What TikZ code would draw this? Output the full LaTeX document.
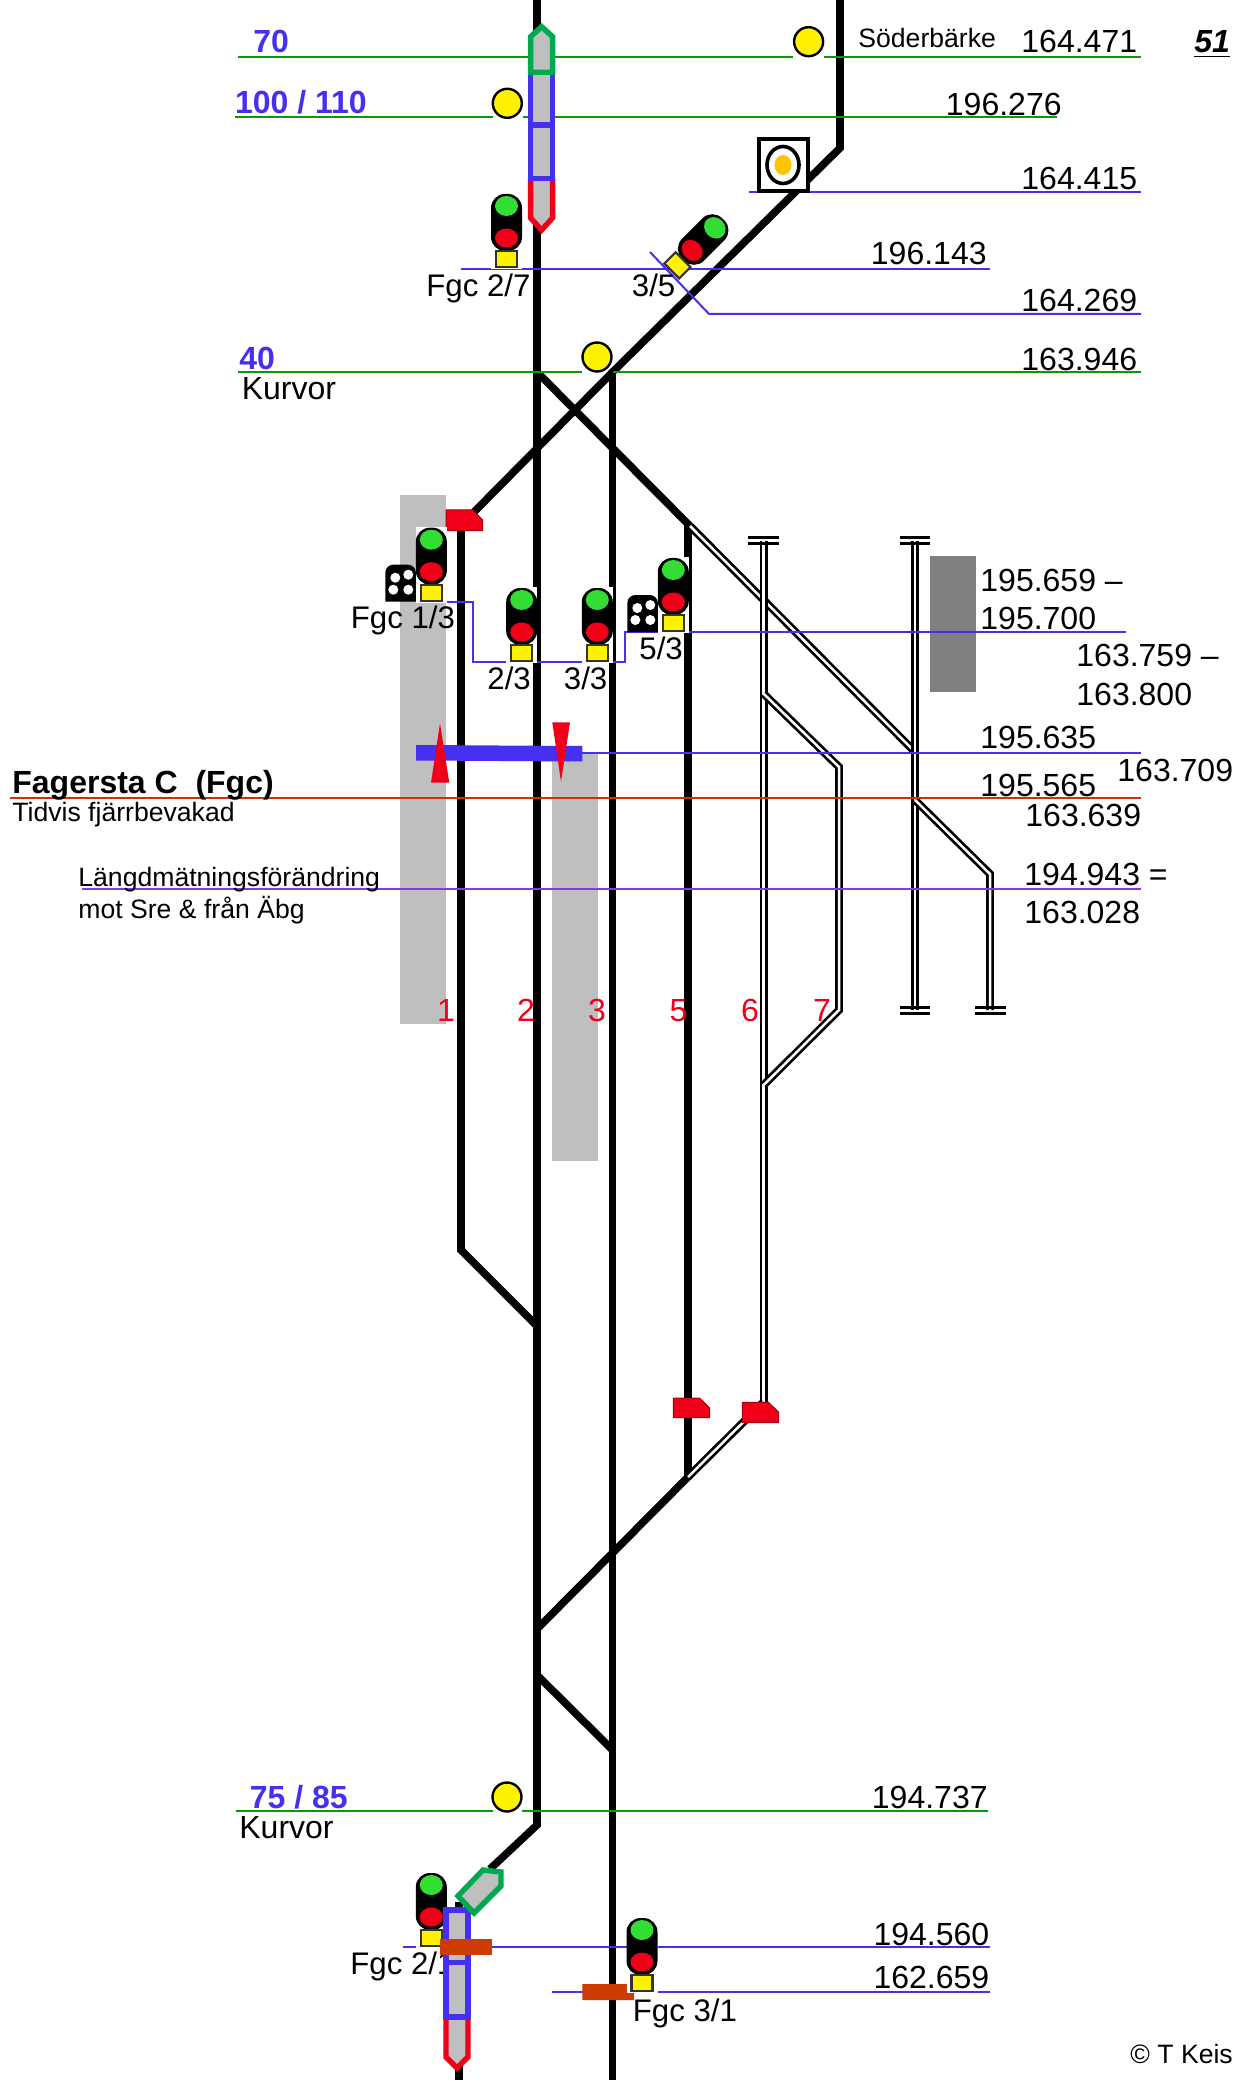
\documentclass[tikz,border=0pt]{standalone}
\usepackage{fontspec}
\setmainfont{Liberation Sans}
\definecolor{lineblue}{HTML}{4530F0}
\definecolor{linegreen}{HTML}{0A990A}
\definecolor{linered}{HTML}{CC3300}
\definecolor{linepurple}{HTML}{8A33F0}
\definecolor{signred}{HTML}{F00018}
\definecolor{signgreen}{HTML}{33DD33}
\definecolor{unitgreen}{HTML}{00A850}
\definecolor{barred}{HTML}{CC3B00}
\definecolor{lampamber}{HTML}{FFC400}
\tikzset{
  track/.style={line width=3.8pt},
  sidetrack/.style={draw=black,line width=1.35pt,double=white,double distance=1.25pt},
  stopbar/.style={line width=1.4pt},
  kmgreen/.style={linegreen,line width=1pt},
  kmblue/.style={lineblue,line width=1pt},
  unit/.style={fill=black!25,line width=2.7pt},
  board/.style={fill=signred,draw=signred!70!black,line width=.5pt},
  km/.style={inner sep=0pt,anchor=base east,font=\fontsize{16}{18}\selectfont},
  lab/.style={inner sep=0pt,anchor=base west,font=\fontsize{16}{18}\selectfont},
  siglab/.style={inner sep=0pt,anchor=base west,font=\fontsize{15.6}{18}\selectfont},
  small/.style={inner sep=0pt,anchor=base west,font=\fontsize{13.3}{15}\selectfont},
  speed/.style={inner sep=0pt,anchor=base west,text=lineblue,font=\fontsize{16}{18}\selectfont\bfseries},
  tracknum/.style={inner sep=0pt,anchor=base,text=signred,font=\fontsize{16}{18}\selectfont},
}
% lamps and plate of a main signal, base at the origin
\newcommand{\signalhead}{
  \fill[rounded corners=7pt] (-15.5,-74) rectangle (15.5,-17);
  \fill[signgreen] (0,-62) ellipse (11.5 and 10);
  \fill[signred] (0,-30) ellipse (11.5 and 9.5);
  \filldraw[fill=yellow,draw=black!80,line width=1.1pt] (-10.5,-17) rectangle (10.5,-1);
}
\newcommand{\signal}[2]{
  \begin{scope}[shift={(#1,#2)}]
    \fill[white] (-15.5,-75) rectangle (15.5,1);
    \signalhead
  \end{scope}
}
\newcommand{\signaldots}[2]{
  \begin{scope}[shift={(#1,#2)}]
    \fill[rounded corners=4pt] (-46,0) -- (-46,-37) -- (-15.5,-37) [sharp corners] -- (-15.5,0) -- cycle;
    \fill[white] (-36,-24) circle (5) (-23,-27) circle (5) (-38,-12) circle (5) (-23,-12) circle (5);
  \end{scope}
}
\newcommand{\yellowdot}[2]{
  \filldraw[fill=yellow,line width=1.2pt] (#1,#2) circle (14.5);
}
\begin{document}
\begin{tikzpicture}[x=.5pt,y=-.5pt]
  \useasboundingbox[fill=white] (0,0) rectangle (1235,2080);

  % platforms
  \fill[black!25] (400,495) rectangle (446,1024);
  \fill[black!25] (552,753) rectangle (597.7,1161);

  % main tracks
  \draw[track] (537,0) -- (537,1825) -- (490,1869);
  \draw[track] (612.6,372) -- (612.6,2080);
  \draw[track] (840,0) -- (840,148) -- (612.6,372) -- (474,512);
  \draw[track] (537,372) -- (690,526);
  \draw[track] (688,526) -- (688,1477) -- (537,1629);
  \draw[track] (461,525) -- (461,1250) -- (537,1326);
  \draw[track] (537,1675) -- (612.6,1750);
  \draw[track] (459,1902) -- (459,2080);

  % side tracks
  \draw[sidetrack] (690,526) -- (915,752);
  \draw[sidetrack] (763.7,541) -- (763.7,1402);
  \draw[sidetrack] (763.7,693.8) -- (839,767) -- (839,1010) -- (763.7,1085);
  \draw[sidetrack] (915,541) -- (915,1010);
  \draw[sidetrack] (915,800) -- (990,874) -- (990,1010);
  \draw[sidetrack] (688,1477) -- (763.7,1402);
  \draw[stopbar] (748,537.2) -- (779,537.2) (748,543.4) -- (779,543.4);
  \draw[stopbar] (900,537.2) -- (930,537.2) (900,543.4) -- (930,543.4);
  \draw[stopbar] (900,1007.6) -- (930,1007.6) (900,1013.8) -- (930,1013.8);
  \draw[stopbar] (975,1007.6) -- (1005.7,1007.6) (975,1013.8) -- (1005.7,1013.8);

  % building
  \fill[black!50] (930,556) rectangle (975.7,692);

  % kilometre lines
  \draw[kmgreen] (237.5,57) -- (792.6,57) (824,57) -- (1141,57);
  \draw[kmgreen] (234.7,117.5) -- (493,117.5) (523,117.5) -- (1057,117.5);
  \draw[kmgreen] (238,371.7) -- (582,371.7) (612.6,371.7) -- (1141,371.7);
  \draw[kmgreen] (236,1811) -- (493,1811) (522,1811) -- (988,1811);
  \draw[kmblue] (749,192) -- (1141,192);
  \draw[kmblue] (461,268.7) -- (990,268.7);
  \draw[kmblue] (650,252) -- (709,314) -- (1141,314);
  \draw[kmblue] (416,602) -- (473.3,602) -- (473.3,662) -- (625,662) -- (625,632) -- (1126,632);
  \draw[kmblue] (582,752.7) -- (1141,752.7);
  \draw[kmblue] (403,1946.7) -- (990,1946.7);
  \draw[kmblue] (552,1992) -- (990,1992);
  \draw[linered,line width=1pt] (10,798) -- (1141,798);
  \draw[linepurple,line width=1pt] (82,889) -- (1141,889);

  % texts
  \node[speed] (speedA) at (253,52.7) {70};
  \node[speed] (speedB) at (234.7,114) {100 / 110};
  \node[speed] (speedC) at (239,370) {40};
  \node[speed] (speedD) at (249.4,1808) {75 / 85};
  \node[lab] (curveA) at (241.4,400) {Kurvor};
  \node[lab] (curveB) at (239,1838.5) {Kurvor};
  \node[small] (stationN) at (858,48) {Söderbärke};
  \node[lab,font=\fontsize{16}{18}\selectfont\bfseries\itshape] (pageno) at (1194,53) {\underline{51}};
  \node[km] (kmA) at (1137.5,53) {164.471};
  \node[km] (kmB) at (1062,115.4) {196.276};
  \node[km] (kmC) at (1137.5,190) {164.415};
  \node[km] (kmD) at (987,265) {196.143};
  \node[km] (kmE) at (1137.5,312) {164.269};
  \node[km] (kmF) at (1137.5,371) {163.946};
  \node[lab] (kmG) at (980,591.6) {195.659 –};
  \node[lab] (kmH) at (980,629) {195.700};
  \node[lab] (kmI) at (1076,666) {163.759 –};
  \node[lab] (kmJ) at (1076,705.7) {163.800};
  \node[lab] (kmK) at (980,748) {195.635};
  \node[lab] (kmL) at (1117,781) {163.709};
  \node[lab] (kmM) at (980,796) {195.565};
  \node[lab] (kmN) at (1025,826.4) {163.639};
  \node[lab] (kmO) at (1024,885) {194.943 =};
  \node[lab] (kmP) at (1024,923) {163.028};
  \node[km] (kmQ) at (988,1808) {194.737};
  \node[km] (kmR) at (989.6,1945) {194.560};
  \node[km] (kmS) at (989.6,1988.5) {162.659};
  \node[lab,font=\fontsize{16}{18}\selectfont\bfseries] (station) at (12,793) {Fagersta C\ \ (Fgc)};
  \node[small] (remote) at (12,821) {Tidvis fjärrbevakad};
  \node[small] (changeA) at (78,886) {Längdmätningsförändring};
  \node[small] (changeB) at (78,918) {mot Sre \& från Äbg};
  \node[small] (credit) at (1130,2063) {© T Keis};
  \node[tracknum] (numA) at (446,1021) {1};
  \node[tracknum] (numB) at (526,1021) {2};
  \node[tracknum] (numC) at (597,1021) {3};
  \node[tracknum] (numD) at (678.5,1021) {5};
  \node[tracknum] (numE) at (750,1021) {6};
  \node[tracknum] (numF) at (822,1021) {7};

  % yellow boards
  \yellowdot{808.6}{41.7}
  \yellowdot{507.3}{103.3}
  \yellowdot{597}{357}
  \yellowdot{507}{1797}

  % round board in its frame
  \filldraw[fill=white,line width=2pt] (759,139) rectangle (808,191);
  \draw[line width=1.8pt] (783,165) ellipse (16 and 18.5);
  \fill[lampamber] (783,165) ellipse (8.5 and 10);

  % red stop boards
  \filldraw[board] (446,510) -- (472.5,510) -- (482.7,520) -- (482.7,530.7) -- (446,530.7) -- cycle;
  \filldraw[board] (673.3,1398) -- (699.5,1398) -- (709.7,1408) -- (709.7,1417.7) -- (673.3,1417.7) -- cycle;
  \filldraw[board] (742.3,1402.3) -- (768.5,1402.3) -- (778.7,1412.3) -- (778.7,1422.7) -- (742.3,1422.7) -- cycle;

  % signals
  \signal{506.5}{268}
  \signal{431.3}{601.7}
  \signal{521.7}{662}
  \signal{597.3}{662}
  \signal{673.3}{632}
  \signaldots{431.3}{601.7}
  \signaldots{673.3}{632}
  \begin{scope}[shift={(671,271.7)},rotate=-45]
    \signalhead
  \end{scope}

  \node[siglab] (sigA) at (426,296.5) {Fgc 2/7};
  \node[siglab] (sigB) at (631.5,296.5) {3/5};
  \node[siglab] (sigC) at (350.5,628.5) {Fgc 1/3};
  \node[siglab] (sigD) at (487,689.5) {2/3};
  \node[siglab] (sigE) at (563.5,689.5) {3/3};
  \node[siglab] (sigF) at (639,659.5) {5/3};
  \node[siglab] (sigG) at (350,1974.5) {Fgc 2/1};
  \node[siglab] (sigH) at (632.5,2021) {Fgc 3/1};

  % bar and arrows at the station
  \fill[lineblue] (416,745) -- (582.3,746) -- (582.3,761.5) -- (416,760.5) -- cycle;
  \fill[signred] (440,723.3) -- (449.3,782.7) -- (431,782.7) -- cycle;
  \fill[signred] (552.3,722.3) -- (570,722.3) -- (561,781.7) -- cycle;

  % unit at the top
  \filldraw[unit,draw=signred] (530.6,178) -- (530.6,218) -- (541.6,230) -- (552.6,218) -- (552.6,178);
  \filldraw[unit,draw=lineblue] (530.6,72) rectangle (552.6,125);
  \filldraw[unit,draw=lineblue] (530.6,125) rectangle (552.6,178.3);
  \filldraw[unit,draw=unitgreen] (530.6,72.3) -- (530.6,36.7) -- (541.6,26.7) -- (552.6,36.7) -- (552.6,72.3) -- cycle;

  % bottom end
  \fill[barred] (582.3,1984) -- (627,1984) -- (627,1993) -- (634,1993) -- (634,2000) -- (582.3,2000) -- cycle;
  \signal{642}{1992}
  \signal{431.3}{1947}
  \filldraw[unit,draw=signred] (446,2017) -- (446,2057) -- (457,2068) -- (468,2057) -- (468,2017);
  \filldraw[unit,draw=lineblue] (446,1910) rectangle (468,1962.7);
  \filldraw[unit,draw=lineblue] (446,1962.7) rectangle (468,2017);
  \filldraw[unit,draw=unitgreen] (483,1870) -- (501,1872) -- (501,1886) -- (474,1913) -- (458,1896) -- cycle;
  \fill[barred] (440,1939) rectangle (491.7,1954.7);
\end{tikzpicture}
\end{document}
